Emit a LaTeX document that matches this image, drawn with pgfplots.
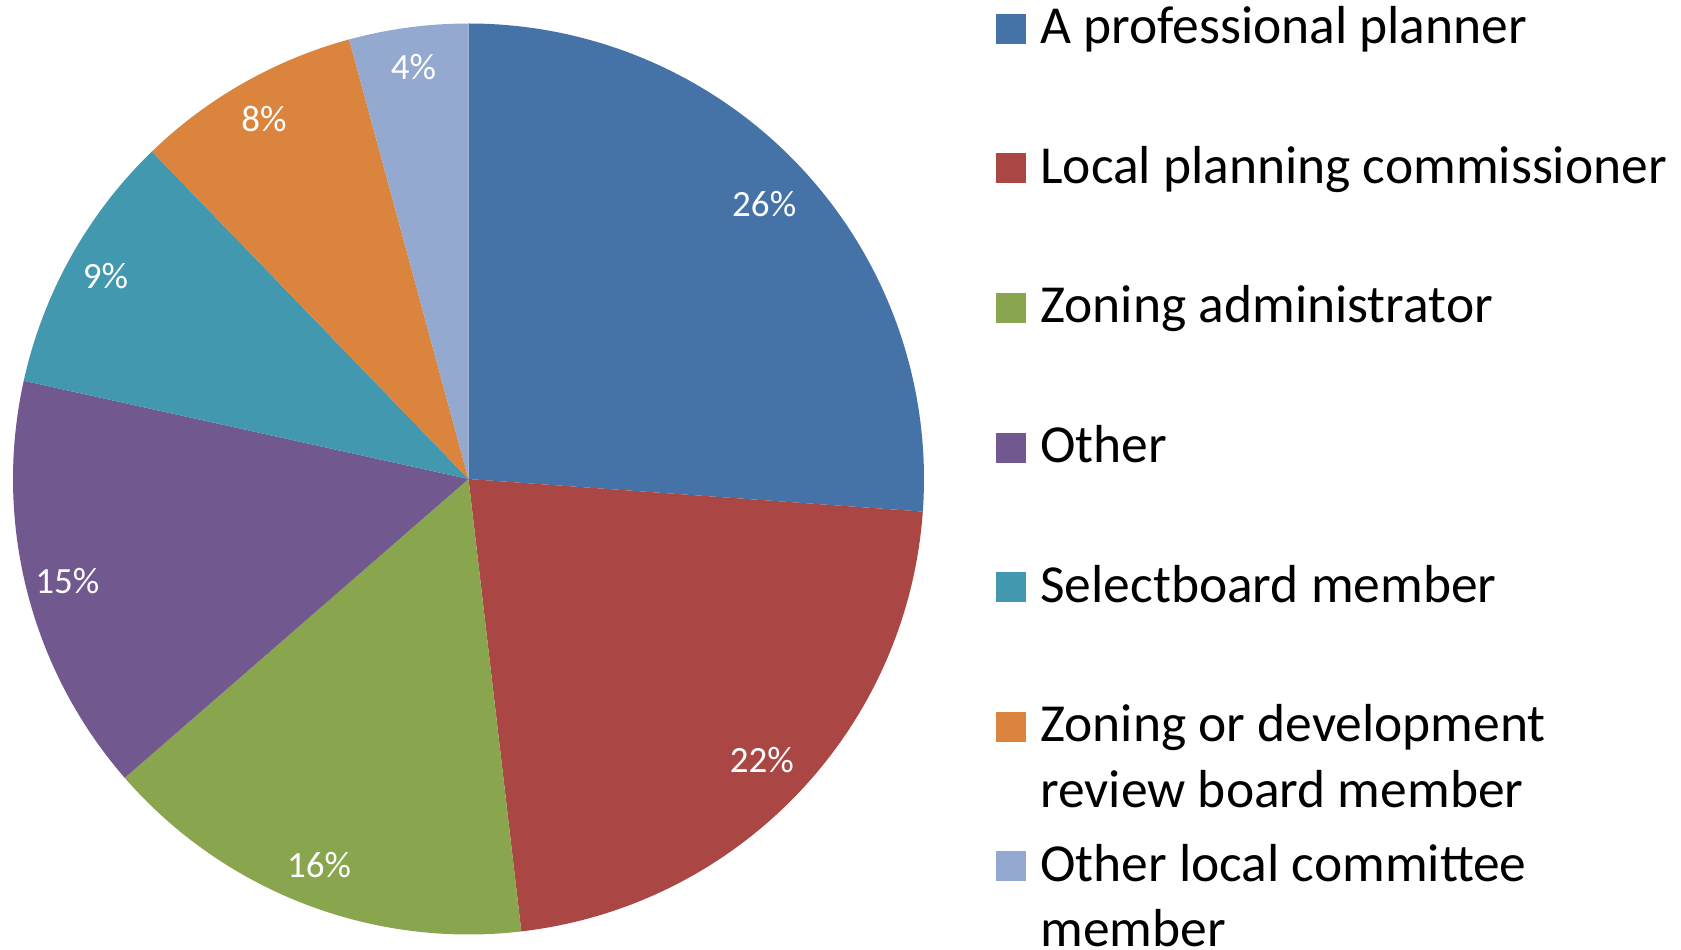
\documentclass[border=0pt]{standalone}
\usepackage{fontspec}
\setmainfont{Carlito}
\usepackage{pgfplots}
\pgfplotsset{compat=1.18}

\definecolor{cA}{HTML}{4572A7}
\definecolor{cB}{HTML}{AA4643}
\definecolor{cC}{HTML}{89A54E}
\definecolor{cD}{HTML}{71588F}
\definecolor{cE}{HTML}{4198AF}
\definecolor{cF}{HTML}{DB843D}
\definecolor{cG}{HTML}{93A9CF}

% share (percent) / printed label / colour / label distance from centre
\def\piedata{26.14/26/cA/202pt, 22.01/22/cB/203pt, 15.46/16/cC/207pt, 14.85/15/cD/207pt,
             9.31/9/cE/208pt, 8.01/8/cF/207pt, 4.22/4/cG/208pt}
\newcommand\lbl{\fontsize{18.5}{22}\selectfont}
\newcommand\leg{\fontsize{26.75}{32}\selectfont}

\begin{document}
\begin{tikzpicture}
\begin{axis}[
    x=0.5pt, y=0.5pt,
    xmin=0, xmax=1681, ymin=0, ymax=949,
    hide axis, clip=false,
]
% pie, clockwise from 12 o'clock
\gdef\angA{90}
\foreach \v/\l/\c/\r in \piedata {
    \pgfmathsetmacro\angB{\angA-3.6*\v}
    \pgfmathsetmacro\angM{(\angA+\angB)/2}
    \edef\wedge{%
      \noexpand\fill[\c] (axis cs:468.5,470) -- ++(\angA:227.75pt)
        arc[start angle=\angA, end angle=\angB, radius=227.75pt] -- cycle;
      \noexpand\path (axis cs:468.5,470) ++(\angM:\r)
        node[text=white, font=\noexpand\lbl, inner sep=0pt] {\l\noexpand\%};}
    \wedge
    \global\let\angA\angB
}
% legend
\foreach \y/\c/\t in {905/cA/A professional planner,
                      765.5/cB/Local planning commissioner,
                      626/cC/Zoning administrator,
                      486.5/cD/Other,
                      347/cE/Selectboard member,
                      207.5/cF/Zoning or development,
                      68/cG/Other local committee} {
    \edef\entry{%
      \noexpand\fill[\c] (axis cs:996,\y) rectangle (axis cs:1026,\y+30);
      \noexpand\node[anchor=base west, inner sep=0pt, font=\noexpand\leg] at (axis cs:1040,\y) {\t};}
    \entry
}
\node[anchor=base west, inner sep=0pt, font=\leg] at (axis cs:1040,141.5) {review board member};
\node[anchor=base west, inner sep=0pt, font=\leg] at (axis cs:1040,3) {member};
\end{axis}
\pgfresetboundingbox
\path (current axis.south west) rectangle (current axis.north east);
\end{tikzpicture}
\end{document}
